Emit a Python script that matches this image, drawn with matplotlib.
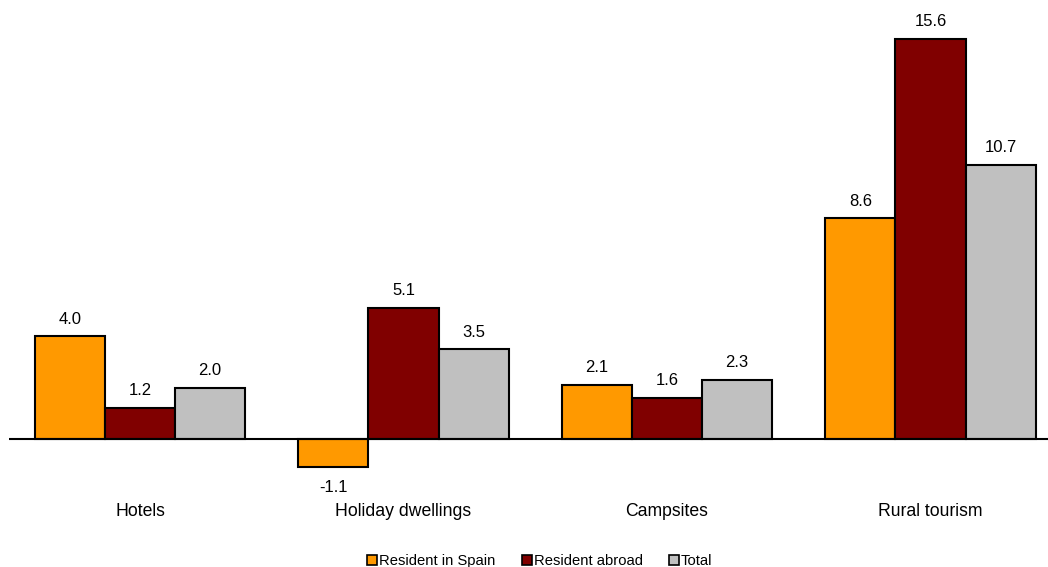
import matplotlib
matplotlib.use("Agg")
import matplotlib.pyplot as plt
import numpy as np
from matplotlib.patches import Patch

plt.rcParams['font.family'] = ['Liberation Sans', 'DejaVu Sans']

categories = ["Hotels", "Holiday dwellings", "Campsites", "Rural tourism"]
series_names = ["Resident in Spain", "Resident abroad", "Total"]
resident_spain = [4.0, -1.1, 2.1, 8.6]
resident_abroad = [1.2, 5.1, 1.6, 15.6]
total = [2.0, 3.5, 2.3, 10.7]
colors = ["#FF9900", "#800000", "#C0C0C0"]

W, H = 1048, 567
fig = plt.figure(figsize=(W/100, H/100), dpi=100)
ax_left, ax_right = 9, 1048
ax_top, ax_bot = 20, 470
ax = fig.add_axes([ax_left/W, 1-ax_bot/H, (ax_right-ax_left)/W, (ax_bot-ax_top)/H])

x = np.arange(len(categories))
bw = 0.266
for i, (vals, c, name) in enumerate(zip([resident_spain, resident_abroad, total], colors, series_names)):
    pos = x + (i-1)*bw
    ax.bar(pos, vals, bw, color=c, edgecolor='black', linewidth=1.5, label=name, zorder=2)
    for p, v in zip(pos, vals):
        if v >= 0:
            ax.text(p, v + 0.38, f"{v:.1f}", ha='center', va='bottom', fontsize=12)
        else:
            ax.text(p, v - 0.5, f"{v:.1f}", ha='center', va='top', fontsize=12)

scale = 400/15.6
ax.set_ylim(-(ax_bot-439)/scale, (439-ax_top)/scale)
spacing = 263.5
xl = -(140-ax_left)/spacing
xr = xl + (ax_right-ax_left)/spacing
ax.set_xlim(xl, xr)
ax.axhline(0, color='black', linewidth=1.5, zorder=3)
for s in ax.spines.values():
    s.set_visible(False)
ax.set_yticks([])
ax.set_xticks(x)
ax.set_xticklabels(categories, fontsize=12.7)
ax.tick_params(axis='x', length=0, pad=24)

handles = [Patch(facecolor=c, edgecolor='black', linewidth=1.2) for c in colors]
fig.legend(handles, series_names, loc='center', bbox_to_anchor=(540/W, 1-561/H), ncol=3,
           frameon=False, fontsize=10.6, handlelength=0.65, handleheight=0.65,
           handletextpad=0.15, columnspacing=1.8)

fig.savefig("out.png", dpi=100)
